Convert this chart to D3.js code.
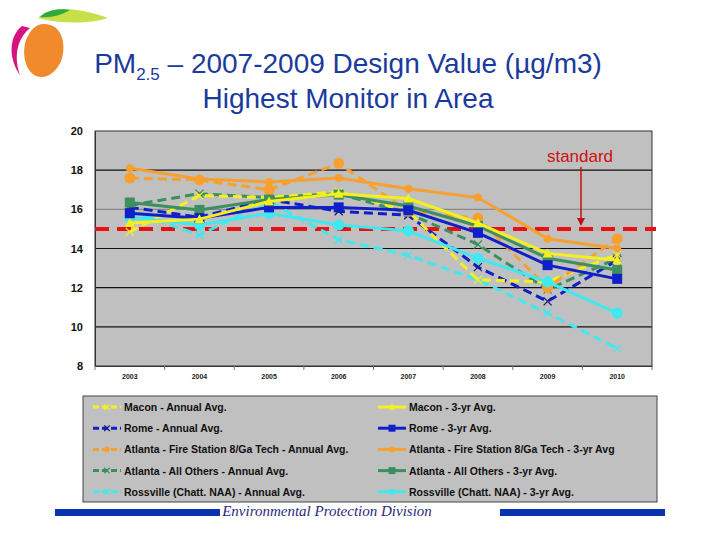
<!DOCTYPE html>
<html><head><meta charset="utf-8">
<script src="https://cdn.jsdelivr.net/npm/d3@7"></script>
<style>body{margin:0;background:#fff}svg{display:block}</style>
</head><body>
<script>
const years = ["2003","2004","2005","2006","2007","2008","2009","2010"];
const yTicks = [8,10,12,14,16,18,20];
const standardValue = 15;

const maconAnnual   = [14.85,16.7,16.6,16.9,15.9,12.4,12.3,13.7];
const maconThree    = [15.3,15.5,16.4,16.8,16.55,15.3,13.75,13.4];
const romeAnnual    = [16.1,15.6,16.5,15.9,15.7,13.05,11.3,13.4];
const romeThree     = [15.8,15.55,16.1,16.1,15.95,14.8,13.15,12.45];
const fsAnnual      = [17.6,17.5,17.0,18.35,15.9,15.55,12.0,14.5];
const fsThree       = [18.1,17.55,17.4,17.6,17.05,16.6,14.5,14.0];
const othersAnnual  = [16.2,16.8,16.6,16.8,15.8,14.2,11.9,13.5];
const othersThree   = [16.35,15.97,16.5,16.75,16.17,15.15,13.5,12.9];
const rossAnnual    = [15.9,14.7,16.4,14.45,13.65,12.4,10.7,8.9];
const rossThree     = [15.6,15.2,15.8,15.2,14.9,13.5,12.3,10.7];

const seriesNames = [
  "Macon - Annual Avg.","Macon - 3-yr Avg.",
  "Rome - Annual Avg.","Rome - 3-yr Avg.",
  "Atlanta - Fire Station 8/Ga Tech - Annual Avg.","Atlanta - Fire Station 8/Ga Tech - 3-yr Avg",
  "Atlanta - All Others - Annual Avg.","Atlanta - All Others - 3-yr Avg.",
  "Rossville (Chatt. NAA) - Annual Avg.","Rossville (Chatt. NAA) - 3-yr Avg."
];
const seriesValues = [maconAnnual,maconThree,romeAnnual,romeThree,fsAnnual,fsThree,othersAnnual,othersThree,rossAnnual,rossThree];
const seriesColors = ["#f4f020","#f4f020","#1020c8","#1020c8","#f7a030","#f7a030","#3c8f5e","#3c8f5e","#40e8f0","#40e8f0"];
const seriesDashed = [true,false,true,false,true,false,true,false,true,false];
const seriesMarkers = ["x","triangle","x","square","bigcircle","circle","x","square","x","circle"];

const W=720,H=540;
const svg = d3.select("body").append("svg").attr("width",W).attr("height",H);

// Logo
const logo = svg.append("g");
logo.append("path").attr("d","M22,26 C9,36 8,58 20,75 C14,58 16,40 30,28 Z").attr("fill","#d6137f");
logo.append("path").attr("d","M44,24 C62,24 66,44 62,58 C58,72 46,80 36,76 C24,70 22,52 26,40 C30,30 36,24 44,24 Z").attr("fill","#f08a2c");
logo.append("path").attr("d","M38,18 C52,4 80,8 108,18 C90,24 60,24 38,18 Z").attr("fill","#c7e04a");
logo.append("path").attr("d","M40,17 C46,10 60,8 70,10 C60,16 50,18 40,17 Z").attr("fill","#2eaa3c");

// Title
const title = svg.append("text").attr("x",348).attr("y",73).attr("text-anchor","middle")
  .attr("font-family","Liberation Sans, Arial, sans-serif").attr("font-size",28).attr("fill","#1a3a9c");
title.append("tspan").text("PM");
title.append("tspan").attr("font-size",17).attr("dy",7).text("2.5");
title.append("tspan").attr("dy",-7).text(" – 2007-2009 Design Value (µg/m3)");
svg.append("text").attr("x",348).attr("y",108).attr("text-anchor","middle")
  .attr("font-family","Liberation Sans, Arial, sans-serif").attr("font-size",28).attr("fill","#1a3a9c")
  .text("Highest Monitor in Area");

// Plot
const L=95,R=652,T=131,B=366;
const x = d3.scaleBand().domain(years).range([L,R]);
const y = d3.scaleLinear().domain([8,20]).range([B,T]);
const cx = d => x(d)+x.bandwidth()/2;

svg.append("rect").attr("x",L).attr("y",T).attr("width",R-L).attr("height",B-T).attr("fill","#c0c0c0");
svg.append("g").selectAll("line").data(yTicks.filter(t=>t>8&&t<20)).join("line")
  .attr("x1",L).attr("x2",R).attr("y1",d=>y(d)).attr("y2",d=>y(d))
  .attr("stroke",d=>d===16?"#8a8a8a":"#111").attr("stroke-width",1.2);
svg.append("rect").attr("x",L).attr("y",T).attr("width",R-L).attr("height",B-T)
  .attr("fill","none").attr("stroke","#333").attr("stroke-width",1);

const yAxis = svg.append("g").attr("transform",`translate(${L},0)`)
  .call(d3.axisLeft(y).tickValues(yTicks).tickSize(0).tickPadding(12).tickFormat(d3.format("d")));
yAxis.select(".domain").attr("stroke","#333");
yAxis.selectAll("text").attr("font-family","Liberation Sans, Arial, sans-serif").attr("font-size",11).attr("font-weight","bold").attr("fill","#111");

const xAxis = svg.append("g").attr("transform",`translate(0,${B})`)
  .call(d3.axisBottom(x).tickSize(0).tickPadding(8));
xAxis.select(".domain").attr("stroke","#333");
xAxis.selectAll("text").attr("font-family","Liberation Sans, Arial, sans-serif").attr("font-size",7).attr("font-weight","bold").attr("fill","#222");
svg.append("g").selectAll("line").data(d3.range(years.length+1)).join("line")
  .attr("x1",i=>L+i*x.step()).attr("x2",i=>L+i*x.step()).attr("y1",B).attr("y2",B+4)
  .attr("stroke","#777").attr("stroke-width",1);

// Standard line
svg.append("line").attr("x1",L).attr("x2",656).attr("y1",y(standardValue)).attr("y2",y(standardValue))
  .attr("stroke","#e81010").attr("stroke-width",4).attr("stroke-dasharray","14,8");

const line = d3.line().x((d,i)=>cx(years[i])).y(d=>y(d));

function drawMarker(g, type, color, px, py, scale){
  const s = scale||1;
  if(type==="x"){
    g.append("path").attr("d",`M${px-4*s},${py-4*s}L${px+4*s},${py+4*s}M${px-4*s},${py+4*s}L${px+4*s},${py-4*s}`)
      .attr("stroke",color).attr("stroke-width",1.3).attr("fill","none");
  } else if(type==="square"){
    g.append("rect").attr("x",px-5*s).attr("y",py-5*s).attr("width",10*s).attr("height",10*s).attr("fill",color);
  } else if(type==="triangle"){
    g.append("path").attr("d",`M${px},${py-5*s}L${px+5*s},${py+4*s}L${px-5*s},${py+4*s}Z`).attr("fill",color);
  } else if(type==="bigcircle"){
    g.append("circle").attr("cx",px).attr("cy",py).attr("r",5.5*s).attr("fill",color);
  } else if(type==="circle"){
    g.append("circle").attr("cx",px).attr("cy",py).attr("r",4*s).attr("fill",color);
  }
}

const order = [8,6,2,0,4,9,7,3,1,5];
order.forEach(k=>{
  const g = svg.append("g");
  g.append("path").datum(seriesValues[k]).attr("d",line).attr("fill","none")
    .attr("stroke",seriesColors[k]).attr("stroke-width",3)
    .attr("stroke-dasharray",seriesDashed[k]?"9,5":null);
  seriesValues[k].forEach((v,i)=>{
    let m = seriesMarkers[k];
    let sc = (m==="circle" && k===9) ? 1.4 : 1;
    drawMarker(g, m, k===2?"#1a1a80":seriesColors[k], cx(years[i]), y(v), sc);
  });
});

// standard label + arrow
svg.append("text").attr("x",580).attr("y",162).attr("text-anchor","middle")
  .attr("font-family","Liberation Sans, Arial, sans-serif").attr("font-size",17).attr("fill","#d01010").text("standard");
svg.append("line").attr("x1",581).attr("x2",581).attr("y1",167).attr("y2",220).attr("stroke","#c01010").attr("stroke-width",1.5);
svg.append("path").attr("d","M577,218L585,218L581,226Z").attr("fill","#c01010");

// Legend
svg.append("rect").attr("x",83).attr("y",396).attr("width",574).attr("height",106)
  .attr("fill","#c0c0c0").attr("stroke","#444").attr("stroke-width",1);
const legendRows = [0,1,2,3,4];
legendRows.forEach(r=>{
  [0,1].forEach(c=>{
    const k = r*2+c;
    const lx = c===0?93:378, ly = 407+r*21.2;
    const g = svg.append("g");
    g.append("line").attr("x1",lx).attr("x2",lx+28).attr("y1",ly).attr("y2",ly)
      .attr("stroke",seriesColors[k]).attr("stroke-width",3).attr("stroke-dasharray",seriesDashed[k]?"6,3":null);
    const mk = seriesMarkers[k];
    drawMarker(g, mk==="bigcircle"?"circle":mk, k===2?"#1a1a80":seriesColors[k], lx+14, ly, 0.7);
    g.append("text").attr("x",lx+31).attr("y",ly+4)
      .attr("font-family","Liberation Sans, Arial, sans-serif").attr("font-size",10.5).attr("font-weight","bold").attr("fill","#111")
      .text(seriesNames[k]);
  });
});

// Footer
svg.append("rect").attr("x",55).attr("y",509).attr("width",165).attr("height",7).attr("fill","#0a33b0");
svg.append("rect").attr("x",500).attr("y",509).attr("width",165).attr("height",7).attr("fill","#0a33b0");
svg.append("text").attr("x",327).attr("y",516).attr("text-anchor","middle")
  .attr("font-family","Liberation Serif, Times New Roman, serif").attr("font-style","italic").attr("font-size",15).attr("fill","#2a2a80")
  .text("Environmental Protection Division");
</script>
</body></html>
